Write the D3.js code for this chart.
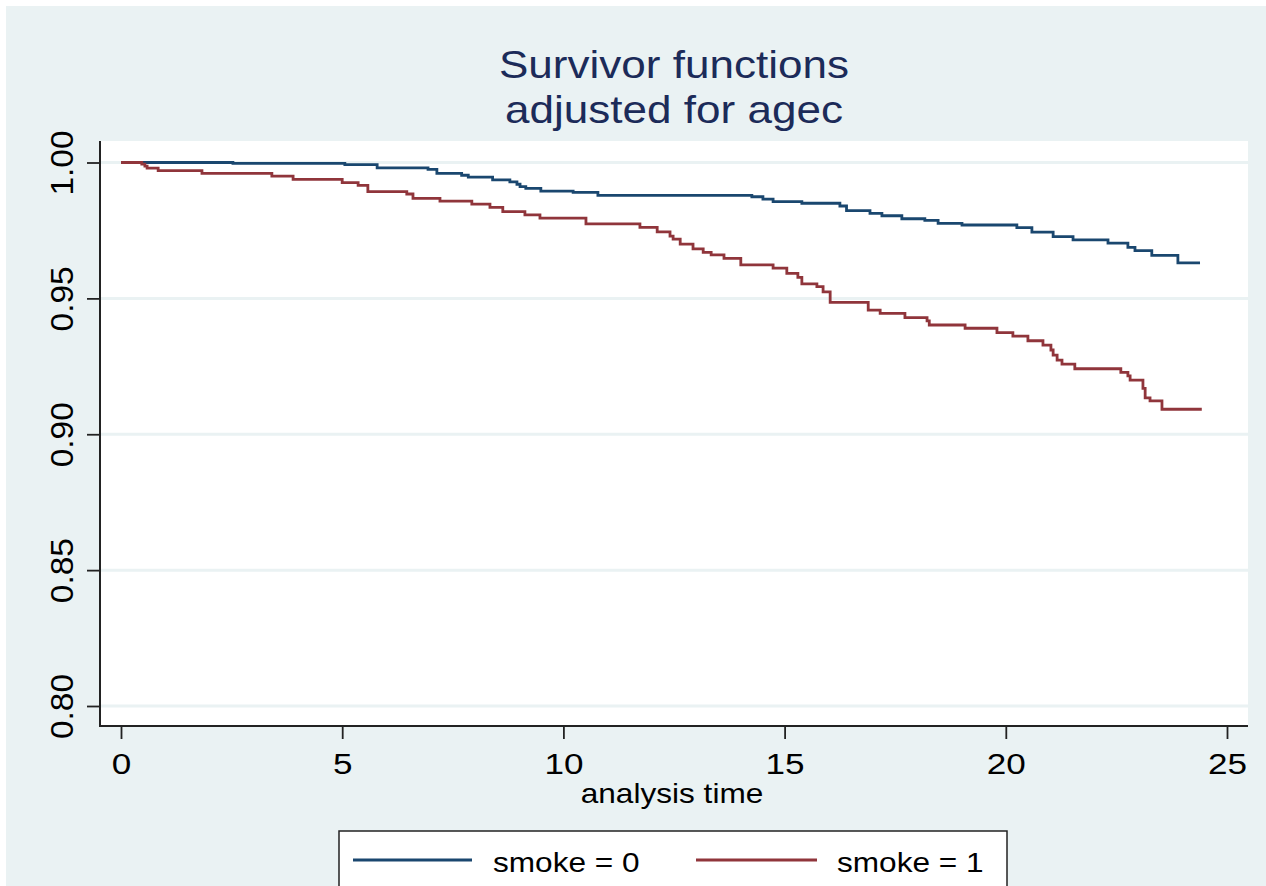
<!DOCTYPE html>
<html><head><meta charset="utf-8">
<script src="https://cdn.jsdelivr.net/npm/d3@7"></script>
<style>
body{margin:0;background:#fff}
svg{display:block}
text{font-family:"Liberation Sans", Arial, Helvetica, sans-serif}
</style>
</head><body>
<svg id="chart" width="1266" height="886"></svg>
<script>
// ---- data ----
const seriesNames = ["smoke = 0", "smoke = 1"];
const smoke0Times = [0, 2.53, 5.06, 5.79, 6.94, 7.14, 7.70, 7.85, 8.40, 8.79, 8.95, 9.02, 9.15, 9.49, 10.22, 10.78, 14.26, 14.51, 14.74, 15.39, 16.25, 16.40, 16.93, 17.20, 17.65, 18.17, 18.47, 19.01, 20.25, 20.59, 21.07, 21.52, 22.31, 22.76, 22.92, 23.30, 23.89, 24.39];
const smoke0Surv  = [1.0000, 0.9997, 0.9992, 0.9980, 0.9975, 0.9960, 0.9953, 0.9946, 0.9936, 0.9929, 0.9920, 0.9911, 0.9905, 0.9895, 0.9890, 0.9879, 0.9874, 0.9865, 0.9856, 0.9850, 0.9840, 0.9823, 0.9813, 0.9804, 0.9793, 0.9787, 0.9776, 0.9770, 0.9760, 0.9744, 0.9727, 0.9715, 0.9703, 0.9688, 0.9676, 0.9658, 0.9631, 0.9631];
const smoke1Times = [0, 0.47, 0.54, 0.59, 0.84, 1.83, 3.41, 3.89, 5.00, 5.36, 5.58, 6.46, 6.60, 7.21, 7.93, 8.34, 8.63, 9.13, 9.47, 10.51, 11.73, 12.12, 12.41, 12.48, 12.64, 12.93, 13.16, 13.34, 13.63, 14.01, 14.74, 15.05, 15.30, 15.39, 15.73, 15.87, 16.03, 16.89, 17.16, 17.72, 18.22, 18.27, 19.08, 19.80, 20.16, 20.50, 20.84, 21.02, 21.07, 21.16, 21.27, 21.56, 22.60, 22.76, 22.81, 23.10, 23.15, 23.26, 23.53, 24.43];
const smoke1Surv  = [1.0000, 0.9994, 0.9987, 0.9979, 0.9970, 0.9960, 0.9950, 0.9938, 0.9926, 0.9916, 0.9893, 0.9884, 0.9868, 0.9858, 0.9847, 0.9835, 0.9819, 0.9807, 0.9795, 0.9774, 0.9761, 0.9745, 0.9729, 0.9718, 0.9700, 0.9682, 0.9669, 0.9660, 0.9647, 0.9623, 0.9611, 0.9592, 0.9577, 0.9553, 0.9543, 0.9524, 0.9485, 0.9457, 0.9445, 0.9429, 0.9417, 0.9402, 0.9390, 0.9374, 0.9361, 0.9344, 0.9328, 0.9310, 0.9291, 0.9273, 0.9258, 0.9241, 0.9228, 0.9215, 0.9199, 0.9169, 0.9134, 0.9123, 0.9092, 0.9092];
const xTickValues = [0, 5, 10, 15, 20, 25];
const yTickValues = [0.80, 0.85, 0.90, 0.95, 1.00];
const titleLines = ["Survivor functions", "adjusted for agec"];
const xAxisTitle = "analysis time";

// ---- layout ----
const W = 1266, H = 886;
const plot = {left: 100, right: 1248, top: 141, bottom: 726};
const colors = ["#1A476F", "#90353B"];
const bg = "#EAF2F3";
const SX = 1.17; // horizontal stretch of the reference glyphs

const svg = d3.select("#chart");
svg.append("rect").attr("width", W).attr("height", H).attr("fill", "#fff");
svg.append("rect").attr("x", 6).attr("y", 6).attr("width", W - 6).attr("height", H - 6).attr("fill", bg);
svg.append("rect").attr("x", plot.left).attr("y", plot.top)
  .attr("width", plot.right - plot.left).attr("height", plot.bottom - plot.top).attr("fill", "#fff");

const x = d3.scaleLinear().domain([0, 25]).range([121, 1227]);
const y = d3.scaleLinear().domain([0.80, 1.00]).range([706, 162.5]);

// grid
svg.append("g").selectAll("line").data(yTickValues).join("line")
  .attr("x1", plot.left).attr("x2", plot.right)
  .attr("y1", d => y(d)).attr("y2", d => y(d))
  .attr("stroke", bg).attr("stroke-width", 3);

// curves
const series = [
  {name: seriesNames[0], pts: smoke0Times.map((t, i) => [t, smoke0Surv[i]])},
  {name: seriesNames[1], pts: smoke1Times.map((t, i) => [t, smoke1Surv[i]])}
];
const line = d3.line().x(d => x(d[0])).y(d => y(d[1])).curve(d3.curveStepAfter);
svg.append("g").selectAll("path").data(series).join("path")
  .attr("d", d => line(d.pts))
  .attr("fill", "none")
  .attr("stroke", (d, i) => colors[i])
  .attr("stroke-width", 2.8)
  .attr("stroke-linejoin", "miter");

// axes
const xAxis = d3.axisBottom(x).tickValues(xTickValues).tickSize(13).tickSizeOuter(0).tickFormat(d3.format("d"));
const gx = svg.append("g").attr("transform", `translate(0,${plot.bottom})`).call(xAxis);
gx.select(".domain").remove();
gx.selectAll(".tick line").attr("stroke", "#222").attr("stroke-width", 1.8);
gx.selectAll(".tick text")
  .attr("y", 48).attr("dy", null)
  .attr("transform", `scale(${SX},1)`)
  .attr("fill", "#000").attr("font-size", 30)
  .style("font-family", '"Liberation Sans", Arial, sans-serif');

const yAxis = d3.axisLeft(y).tickValues(yTickValues).tickSize(13).tickSizeOuter(0).tickFormat(d3.format(".2f"));
const gy = svg.append("g").attr("transform", `translate(${plot.left},0)`).call(yAxis);
gy.select(".domain").remove();
gy.selectAll(".tick line").attr("stroke", "#222").attr("stroke-width", 1.8);
gy.selectAll(".tick text")
  .attr("x", 0).attr("y", -27).attr("dy", null)
  .attr("text-anchor", "middle")
  .attr("transform", "rotate(-90) scale(1.08,1)")
  .attr("fill", "#000").attr("font-size", 31)
  .style("font-family", '"Liberation Sans", Arial, sans-serif');

// axis lines
svg.append("line").attr("x1", plot.left).attr("x2", plot.left).attr("y1", plot.top).attr("y2", plot.bottom + 1)
  .attr("stroke", "#222").attr("stroke-width", 2);
svg.append("line").attr("x1", plot.left - 1).attr("x2", plot.right).attr("y1", plot.bottom).attr("y2", plot.bottom)
  .attr("stroke", "#222").attr("stroke-width", 2);

// titles
const tg = svg.append("g");
titleLines.forEach((t, i) => {
  tg.append("text")
    .attr("transform", `translate(674,${78 + i * 45}) scale(1.13,1)`)
    .attr("text-anchor", "middle").attr("font-size", 39).attr("fill", "#1C2B59")
    .text(t);
});
svg.append("text")
  .attr("transform", `translate(672,803) scale(${SX},1)`)
  .attr("text-anchor", "middle").attr("font-size", 27).attr("fill", "#000")
  .text(xAxisTitle);

// legend
const lg = svg.append("g");
lg.append("rect").attr("x", 339).attr("y", 831).attr("width", 668).attr("height", 80)
  .attr("fill", "#fff").attr("stroke", "#222").attr("stroke-width", 1.5);
const legendItems = [
  {x1: 353, x2: 472, tx: 493},
  {x1: 696, x2: 817, tx: 837}
];
series.forEach((s, i) => {
  const it = legendItems[i];
  lg.append("line").attr("x1", it.x1).attr("x2", it.x2).attr("y1", 860).attr("y2", 860)
    .attr("stroke", colors[i]).attr("stroke-width", 2.8);
  lg.append("text")
    .attr("transform", `translate(${it.tx},872) scale(${SX},1)`)
    .attr("font-size", 27).attr("fill", "#000")
    .text(s.name);
});
</script>
</body></html>
